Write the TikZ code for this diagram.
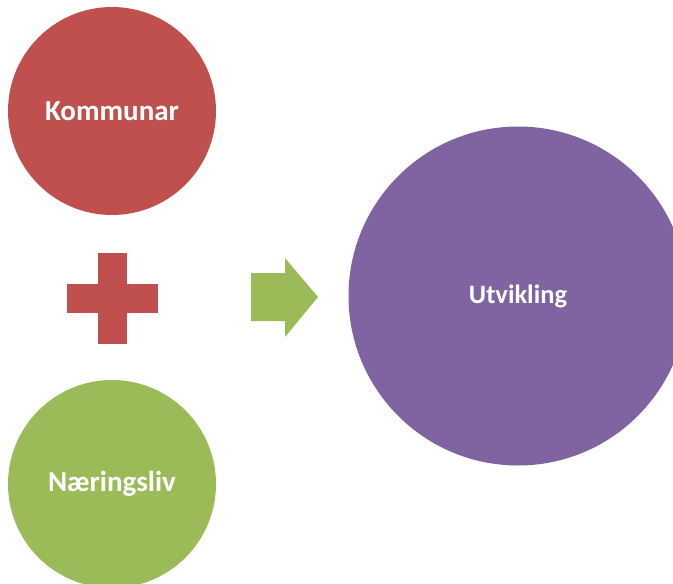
\documentclass[tikz,border=0pt]{standalone}
\usepackage{fontspec}
\setmainfont{Carlito}
\definecolor{kred}{HTML}{C0504D}
\definecolor{ngreen}{HTML}{9BBB59}
\definecolor{upurple}{HTML}{8064A2}
\begin{document}
\begin{tikzpicture}[x=1pt, y=-1pt,
        ball/.style={circle, inner sep=0pt, text=white, font=\fontsize{29}{32}\selectfont\bfseries}]
            \useasboundingbox (0,0) rectangle (673,584);
            \clip (0,0) rectangle (673,584);
            \node[ball, fill=kred, minimum size=208pt] (kommunar) at (112,111) {Kommunar};
            \node[ball, fill=ngreen, minimum size=208pt] (naering) at (112,484) {Næringsliv};
            \node[ball, fill=upurple, minimum size=339pt, font=\fontsize{26.5}{30}\selectfont\bfseries] (utvikling) at (518,296) {Utvikling};
            \fill[kred] (67,284) rectangle (158,313);
            \fill[kred] (98,253) rectangle (127,344);
            \fill[ngreen] (251,273) -- (285,273) -- (285,258) -- (318,297) -- (285,337) -- (285,321) -- (251,321) -- cycle;
        \end{tikzpicture}
\end{document}
